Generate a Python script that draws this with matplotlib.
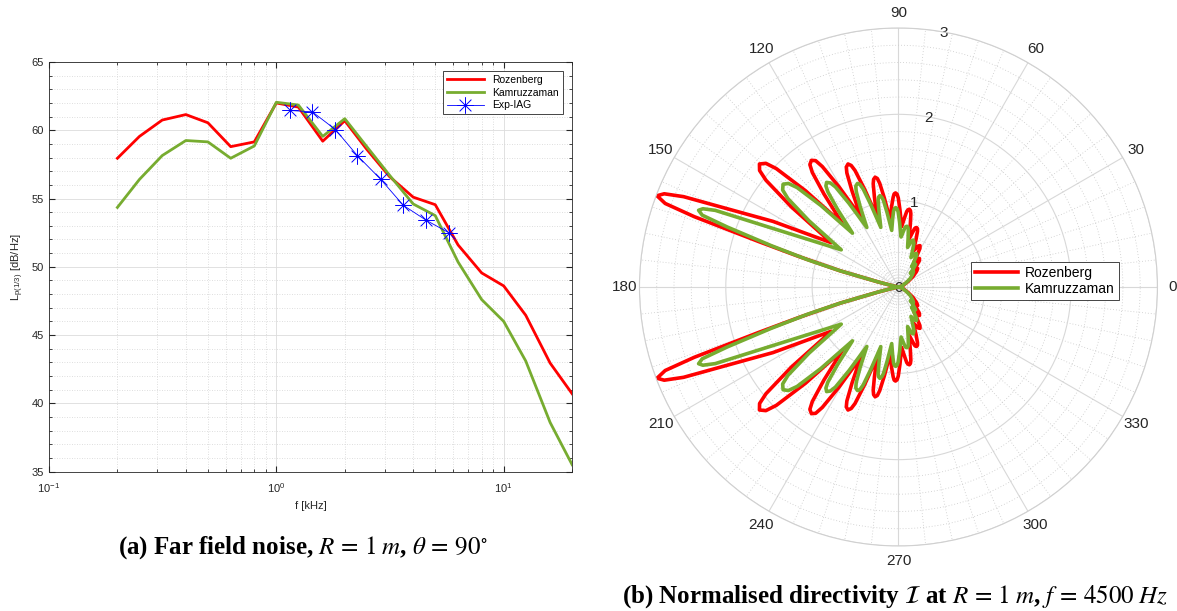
import numpy as np
import matplotlib
matplotlib.use("Agg")
import matplotlib.pyplot as plt
from matplotlib.path import Path
from matplotlib.transforms import ScaledTranslation

plt.rcParams["font.family"] = ["Liberation Sans", "DejaVu Sans"]
plt.rcParams["mathtext.fontset"] = "stix"

RED = "#ff0000"
GREEN = "#77ac30"
BLUE = "#0000ff"

# --- (a) far-field third-octave spectrum -----------------------------------
freq_khz = [0.2, 0.25, 0.315, 0.4, 0.5, 0.63, 0.8, 1.0, 1.25, 1.6, 2.0,
            2.5, 3.15, 4.0, 5.0, 6.3, 8.0, 10.0, 12.5, 16.0, 20.0]
rozenberg_spl = [57.95, 59.55, 60.75, 61.15, 60.55, 58.8, 59.15, 62.0, 61.7,
                 59.2, 60.7, 58.6, 56.6, 55.1, 54.55, 51.6, 49.55, 48.6,
                 46.45, 42.95, 40.7]
kamruzzaman_spl = [54.35, 56.4, 58.15, 59.25, 59.15, 57.95, 58.85, 62.05,
                   61.85, 59.55, 60.85, 58.8, 56.7, 54.6, 53.75, 50.35, 47.6,
                   46.0, 43.1, 38.6, 35.5]
exp_freq_khz = [1.145, 1.44, 1.82, 2.27, 2.88, 3.62, 4.57, 5.73]
exp_spl = [61.45, 61.35, 60.05, 58.15, 56.4, 54.5, 53.4, 52.5]

# --- (b) directivity, upper half (0..180 deg), mirrored below ---------------
rozenberg_theta = [
    0, 10, 20, 30, 36, 41, 44, 46.4, 48,
    50.1, 51.6, 53.5, 55.1, 56.2, 58,
    59.8, 60.9, 62.5, 64.25, 65.5, 67.5,
    69.7, 71.1, 71.9, 73, 73.9, 74.6, 75.7, 77.5,
    79.3, 80.4, 81.1, 82, 83, 83.75, 85, 87,
    88.9, 90.1, 90.85, 91.8, 92.65, 93.4, 94.9, 97,
    99.0, 100.25, 101.0, 102, 103.0, 103.75, 105.0, 107,
    109.1, 110.45, 111.25, 112.3, 113.5, 114.35, 115.85, 118.2,
    120.7, 122.3, 123.25, 124.5, 125.9, 126.95, 128.7, 131.5,
    134.0, 135.9, 137.0, 138.5, 140.0, 141.15, 143.2, 146.6,
    152.4, 157.2, 158.3, 159.3, 160.3, 161, 162, 163, 164.5, 166, 170, 180]
rozenberg_r = [
    0.0, 0.02, 0.06, 0.13, 0.21, 0.28, 0.31, 0.29, 0.27,
    0.34, 0.39, 0.41, 0.40, 0.375, 0.34,
    0.44, 0.51, 0.54, 0.527, 0.495, 0.45,
    0.585, 0.68, 0.71, 0.72, 0.714, 0.70, 0.645, 0.57,
    0.74, 0.86, 0.896, 0.91, 0.90, 0.88, 0.805, 0.70,
    0.895, 1.03, 1.075, 1.09, 1.08, 1.04, 0.935, 0.78,
    1.04, 1.22, 1.28, 1.30, 1.28, 1.23, 1.075, 0.85,
    1.195, 1.44, 1.51, 1.54, 1.515, 1.45, 1.23, 0.92,
    1.35, 1.65, 1.75, 1.78, 1.75, 1.66, 1.38, 0.98,
    1.55, 1.97, 2.10, 2.15, 2.10, 1.97, 1.55, 0.93,
    1.64, 2.70, 2.92, 2.99, 2.87, 2.50, 1.70, 1.20, 0.70, 0.25, 0.04, 0.0]

kamruzzaman_theta = [
    0, 10, 20, 30, 36, 42, 46, 49,
    50.6, 53, 55.4, 57,
    58.8, 59.9, 61.5, 63.4, 64.8, 67,
    69.2, 70.6, 72.5, 74.1, 75.2, 77,
    79, 80.25, 81, 82, 83, 83.75, 85, 87,
    89, 90.25, 91, 92, 92.95, 93.7, 94.9, 96.8,
    98.7, 99.85, 100.6, 101.5, 102.5, 103.25, 104.5, 106.5,
    108.55, 109.8, 110.6, 111.6, 112.9, 113.85, 115.45, 118,
    120.6, 122.2, 123.2, 124.5, 125.7, 126.6, 128.1, 130.5,
    133.6, 135.55, 136.75, 138.3, 140.05, 141.35, 143.5, 147,
    157.3, 158.2, 159, 159.9, 160.7, 162, 163.3, 164.5, 166, 170, 180]
kamruzzaman_r = [
    0.0, 0.02, 0.05, 0.11, 0.17, 0.22, 0.25, 0.21,
    0.27, 0.33, 0.305, 0.28,
    0.36, 0.415, 0.44, 0.43, 0.405, 0.37,
    0.47, 0.54, 0.57, 0.555, 0.52, 0.47,
    0.59, 0.674, 0.70, 0.71, 0.705, 0.69, 0.645, 0.58,
    0.75, 0.87, 0.906, 0.92, 0.91, 0.88, 0.79, 0.66,
    0.87, 1.02, 1.06, 1.08, 1.065, 1.03, 0.90, 0.72,
    1.005, 1.205, 1.27, 1.29, 1.27, 1.21, 1.035, 0.78,
    1.125, 1.37, 1.44, 1.47, 1.44, 1.37, 1.145, 0.82,
    1.305, 1.645, 1.75, 1.79, 1.75, 1.64, 1.29, 0.79,
    2.30, 2.44, 2.48, 2.42, 2.10, 1.55, 1.10, 0.70, 0.25, 0.04, 0.0]


def full_circle(theta_half, r_half):
    """Reflect the 0..180 deg half of a symmetric pattern about the x axis."""
    th = np.asarray(theta_half, dtype=float)
    rr = np.asarray(r_half, dtype=float)
    th_full = np.concatenate([th, 360.0 - th[::-1][1:]])
    r_full = np.concatenate([rr, rr[::-1][1:]])
    return np.deg2rad(th_full), r_full


# eight-armed asterisk marker (like MATLAB's '*')
d = 0.7071
ASTERISK = Path(
    [(-1, 0), (1, 0), (0, -1), (0, 1), (-d, -d), (d, d), (-d, d), (d, -d)],
    [Path.MOVETO, Path.LINETO] * 4)

fig = plt.figure(figsize=(11.77, 6.11), dpi=100)

# spectrum panel
ax = fig.add_axes([0.0416, 0.2282, 0.4445, 0.6703])
ax.semilogx(freq_khz, rozenberg_spl, color=RED, lw=2.0, label="Rozenberg")
ax.semilogx(freq_khz, kamruzzaman_spl, color=GREEN, lw=2.0,
            label="Kamruzzaman")
ax.semilogx(exp_freq_khz, exp_spl, color=BLUE, lw=0.6, marker=ASTERISK,
            ms=12, mew=0.7, fillstyle="none", label="Exp-IAG")
ax.set_xlim(0.1, 20)
ax.set_ylim(35, 65)
ax.set_yticks(np.arange(35, 66, 5))
ax.set_yticks(np.arange(35, 66, 1), minor=True)
ax.grid(which="major", color="#dcdcdc", lw=0.6)
ax.grid(which="minor", color="#d4d4d4", lw=0.6, ls=(0, (1, 2)))
ax.set_axisbelow(True)
ax.tick_params(which="both", direction="in", top=True, right=True,
               labelsize=8, colors="#262626")
ax.tick_params(axis="x", which="major", pad=7)
ax.tick_params(which="major", length=4)
ax.tick_params(which="minor", length=2)
for sp in ax.spines.values():
    sp.set_color("#262626")
    sp.set_linewidth(0.6)
ax.set_xlabel("f [kHz]", fontsize=8, color="#262626", labelpad=4)
ax.set_ylabel(r"L$_{\mathregular{p(1/3)}}$ [dB/Hz]", fontsize=8,
              color="#262626", labelpad=4)
leg = ax.legend(loc="upper right", fontsize=7.5, handlelength=3.6,
                fancybox=False, edgecolor="#262626", framealpha=1,
                borderaxespad=0.9, labelspacing=0.25, borderpad=0.35)
leg.get_frame().set_linewidth(0.6)

# directivity panel
pax = fig.add_axes([0.5433, 0.1064, 0.4401, 0.8478], projection="polar")
th_r, r_r = full_circle(rozenberg_theta, rozenberg_r)
th_k, r_k = full_circle(kamruzzaman_theta, kamruzzaman_r)
pax.plot(th_r, r_r, color=RED, lw=2.6, label="Rozenberg")
pax.plot(th_k, r_k, color=GREEN, lw=2.6, label="Kamruzzaman")
pax.set_ylim(0, 3)
pax.set_yticks([0, 1, 2, 3])
pax.set_yticklabels(["0", "1", "2", "3"])
pax.set_yticks(np.arange(0, 3.01, 0.2), minor=True)
pax.set_xticks(np.deg2rad(np.arange(0, 360, 30)))
pax.set_xticklabels([str(a) for a in range(0, 360, 30)])
pax.set_xticks(np.deg2rad(np.arange(0, 360, 6)), minor=True)
pax.set_rlabel_position(80)
pax.grid(which="major", color="#d8d8d8", lw=0.8)
pax.grid(which="minor", color="#c8c8c8", lw=0.6, ls=(0, (1, 2.5)))
pax.set_axisbelow(True)
pax.tick_params(axis="x", which="both", length=0, pad=4, labelsize=11,
                colors="#262626")
pax.tick_params(axis="y", labelsize=11, colors="#262626")
shift = ScaledTranslation(-4 / 100, -8 / 100, fig.dpi_scale_trans)
for lab in pax.get_yticklabels():
    lab.set_transform(lab.get_transform() + shift)
pax.spines["polar"].set_color("#d0d0d0")
pax.spines["polar"].set_linewidth(0.8)
pleg = pax.legend(loc="center left", bbox_to_anchor=(0.626, 0.511),
                  fontsize=10, handlelength=3.1, fancybox=False,
                  edgecolor="#262626", framealpha=1, labelspacing=0.15,
                  borderpad=0.3, handletextpad=0.5)
pleg.get_frame().set_linewidth(0.6)

# captions
fig.text(0.2575, 0.103,
         r"(a) Far field noise, $R\,=\,1\;m$, $\theta\,=\,90^{\circ}$",
         ha="center", va="center", fontsize=18, fontweight="bold",
         family="Liberation Serif")
fig.text(0.760, 0.024,
         r"(b) Normalised directivity $\mathcal{I}$ at $R\,=\,1\;m$, "
         r"$f\,=\,4500\;Hz$",
         ha="center", va="center", fontsize=18, fontweight="bold",
         family="Liberation Serif")

fig.savefig("out.png", dpi=100)
